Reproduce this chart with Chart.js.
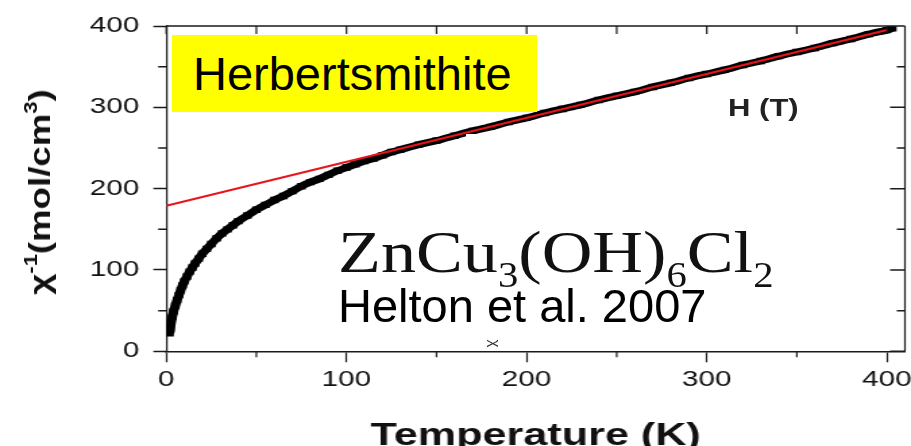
<!DOCTYPE html>
<html>
<head>
<meta charset="utf-8">
<script src="https://cdn.jsdelivr.net/npm/chart.js@4.4.1/dist/chart.umd.min.js"></script>
<style>
  html, body { margin: 0; padding: 0; background: #fff; overflow: hidden; }
  #wrap { position: relative; width: 911px; height: 446px; overflow: hidden; }
  #grafico { position: absolute; left: 0; top: 0; }
  .ov { position: absolute; white-space: nowrap; font-family: 'Liberation Sans', Arial, sans-serif; color: #000; }
  #tapa { left: 466px; top: 134px; width: 419px; height: 204px; background: #fff; }
  #caja { left: 172px; top: 35px; width: 344px; height: 77px; padding-left: 21px; background: #ffff00; font-size: 47px; line-height: 77px; }
  #formula { left: 338px; top: 222px; font-family: 'Liberation Serif', 'Times New Roman', serif; font-size: 60px; line-height: 60px; transform: scaleX(1.17); transform-origin: left top; color: #111; }
  #formula sub { font-size: 0.58em; vertical-align: -15px; line-height: 0; }
  #cita { left: 338px; top: 282px; font-size: 47px; line-height: 47px; }
  #campo { left: 728px; top: 97px; font-size: 23px; line-height: 23px; font-weight: bold; transform: scaleX(1.35); transform-origin: left top; color: #222; }
  #chi { left: 492px; top: 336px; font-size: 15px; line-height: 15px; transform: rotate(90deg); color: #333; }
  #ytit { left: 40px; top: 192px; font-size: 30px; line-height: 30px; font-weight: bold; color: #111;
          transform: translate(-50%, -50%) rotate(-90deg) scaleX(1.22); }
  #ytit sup { font-size: 0.6em; vertical-align: 0.7em; line-height: 0; }
</style>
</head>
<body>
<div id="wrap">
  <canvas id="grafico" width="675" height="452" style="width:911px;height:452px"></canvas>
  <div class="ov" id="tapa"></div>
  <div class="ov" id="campo">H (T)</div>
  <div class="ov" id="chi">χ</div>
  <div class="ov" id="caja">Herbertsmithite</div>
  <div class="ov" id="formula">ZnCu<sub>3</sub>(OH)<sub>6</sub>Cl<sub>2</sub></div>
  <div class="ov" id="cita">Helton et al. 2007</div>
  <div class="ov" id="ytit">χ<sup>-1</sup>(mol/cm<sup>3</sup>)</div>
</div>
<script>
// Datos (T en K, chi^-1 en mol/cm3)
const temperaturas = [1.8, 2.2, 2.7, 3.3, 4, 5, 6, 7, 8, 9, 10, 11.5, 13, 14.5, 16, 18, 20, 22.5, 25, 28,
  31, 34, 37, 40, 45, 50, 55, 60, 65, 70, 75, 80, 85, 90, 95, 100, 105, 110, 115, 120,
  125, 130, 140, 150, 160, 170, 180, 190, 200, 210, 220, 230, 240, 250, 260, 270, 280, 290, 300, 310,
  320, 330, 340, 350, 360, 370, 380, 390, 400, 403];
const chiInversa = [22, 28, 35, 42, 49, 56, 63, 69, 75, 81, 86, 92, 98, 103, 108, 114, 120, 126, 132, 139,
  145, 150, 155, 160, 167, 174, 180, 186, 191, 197, 203, 208, 212, 217, 222, 226, 230, 234, 237, 241,
  245, 248, 254, 259, 265, 271, 276, 282, 287, 293, 298, 303, 309, 314, 319, 325, 330, 336, 341, 346,
  352, 357, 363, 368, 373, 379, 384, 390, 395, 397];

// Ajuste lineal (Curie-Weiss)
const ajusteT = [0, 400];
const ajusteChi = [179, 395];

// Marcas de los ejes
const ticksX = [0, 100, 200, 300, 400];
const ticksY = [0, 100, 200, 300, 400];
const menoresX = [50, 150, 250, 350];
const menoresY = [50, 150, 250, 350];

// La figura original está estirada en horizontal
const S = 911 / 675;
const FUENTE = "'Liberation Sans', Arial, sans-serif";
const NEGRO = '#1a1a1a';

// Dibuja el marco superior/derecho y las marcas menores
const marco = {
  id: 'marco',
  afterDraw(chart) {
    const { ctx, chartArea: a, scales: { x, y } } = chart;
    ctx.save();
    ctx.strokeStyle = NEGRO;

    ctx.lineWidth = 1.5;
    ctx.beginPath();
    ctx.moveTo(a.left, a.top);
    ctx.lineTo(a.right, a.top);
    ticksY.concat(menoresY).forEach(v => {
      const py = y.getPixelForValue(v);
      const largo = ticksY.includes(v) ? 11 : 6;
      ctx.moveTo(a.right, py);
      ctx.lineTo(a.right - largo, py);
    });
    menoresY.forEach(v => {
      const py = y.getPixelForValue(v);
      ctx.moveTo(a.left, py);
      ctx.lineTo(a.left - 6, py);
    });
    ctx.stroke();

    ctx.lineWidth = 1.2;
    ctx.beginPath();
    ctx.moveTo(a.right, a.top);
    ctx.lineTo(a.right, a.bottom);
    ticksX.concat(menoresX).forEach(v => {
      const px = x.getPixelForValue(v);
      ctx.moveTo(px, a.top);
      ctx.lineTo(px, a.top + 8);
    });
    menoresX.forEach(v => {
      const px = x.getPixelForValue(v);
      ctx.moveTo(px, a.bottom);
      ctx.lineTo(px, a.bottom + 6);
    });
    ctx.stroke();
    ctx.restore();
  }
};

const ctx = document.getElementById('grafico').getContext('2d');

new Chart(ctx, {
  type: 'scatter',
  data: {
    datasets: [
      {
        label: 'Ajuste',
        data: ajusteT.map((t, i) => ({ x: t, y: ajusteChi[i] })),
        showLine: true,
        borderColor: '#e8131b',
        borderWidth: 2,
        pointRadius: 0
      },
      {
        label: 'Datos',
        data: temperaturas.map((t, i) => ({ x: t, y: chiInversa[i] })),
        showLine: true,
        borderColor: '#000',
        borderWidth: 7,
        tension: 0.2,
        pointStyle: 'rect',
        pointRadius: 4.5,
        pointBorderWidth: 0,
        backgroundColor: '#000'
      }
    ]
  },
  options: {
    responsive: false,
    animation: false,
    devicePixelRatio: 1,
    layout: { padding: { top: 26, right: 3, left: 56.1, bottom: 0 } },
    plugins: { legend: { display: false }, tooltip: { enabled: false } },
    scales: {
      x: {
        type: 'linear',
        min: 0,
        max: 410,
        afterBuildTicks: s => { s.ticks = ticksX.map(v => ({ value: v })); },
        afterFit: s => { s.paddingRight = 0; },
        grid: { drawOnChartArea: false, tickLength: 11, tickWidth: 1.2, tickColor: NEGRO },
        border: { display: true, color: NEGRO, width: 1.5 },
        ticks: { padding: 4.7, color: '#111', maxRotation: 0, autoSkip: false, font: { family: FUENTE, size: 22 } },
        title: {
          display: true,
          text: 'Temperature (K)',
          color: '#111',
          font: { family: FUENTE, size: 32, weight: 'bold', lineHeight: 1 },
          padding: { top: 21.9, bottom: 0 }
        }
      },
      y: {
        min: 0,
        max: 400,
        afterBuildTicks: s => { s.ticks = ticksY.map(v => ({ value: v })); },
        grid: { drawOnChartArea: false, tickLength: 9.6, tickWidth: 1.5, tickColor: NEGRO },
        border: { display: true, color: NEGRO, width: 1.2 },
        ticks: { padding: 10.4, color: '#111', font: { family: FUENTE, size: 22 } }
      }
    }
  },
  plugins: [marco]
});
</script>
</body>
</html>
